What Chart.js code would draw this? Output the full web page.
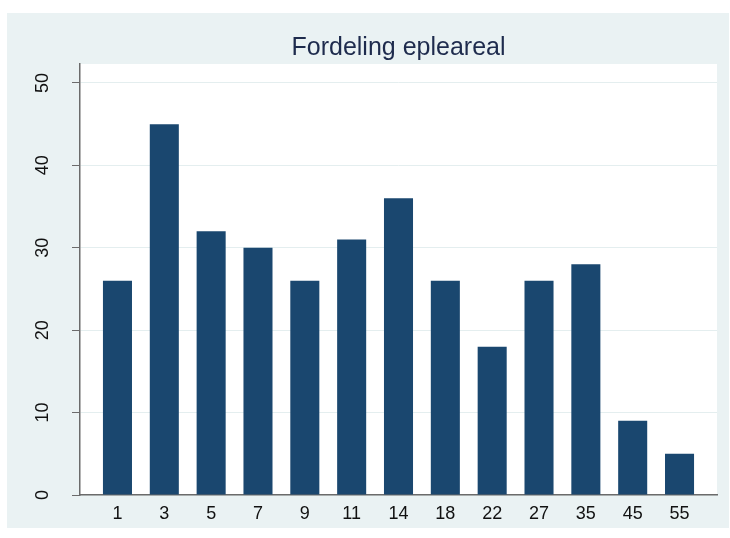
<!DOCTYPE html>
<html>
<head>
<meta charset="utf-8">
<title>Fordeling epleareal</title>
<script src="https://cdn.jsdelivr.net/npm/chart.js@4.4.1/dist/chart.umd.min.js"></script>
<style>
  html, body { margin: 0; padding: 0; background: #fff; }
  .wrap {
    position: absolute;
    left: 7px; top: 13px;
    width: 722px; height: 515px;
    background: #eaf2f3;
  }
</style>
</head>
<body>
<div class="wrap"><canvas id="chart"></canvas></div>
<script>
// areal categories and counts
const categories = ['1', '3', '5', '7', '9', '11', '14', '18', '22', '27', '35', '45', '55'];
const counts = [26, 45, 32, 30, 26, 31, 36, 26, 18, 26, 28, 9, 5];
const yTicks = [0, 10, 20, 30, 40, 50];

const FONT = "'Liberation Sans', Arial, sans-serif";
const AXIS = '#6b6b6b';

// white plot region like Stata's plotregion
const plotBg = {
  id: 'plotBg',
  beforeDraw(chart) {
    const { ctx, chartArea: a } = chart;
    ctx.save();
    ctx.fillStyle = '#ffffff';
    ctx.fillRect(a.left, a.top, a.right - a.left, a.bottom - a.top);
    ctx.restore();
  }
};

const ctx = document.getElementById('chart').getContext('2d');
new Chart(ctx, {
  type: 'bar',
  data: {
    datasets: [{
      data: counts.map((v, i) => ({ x: i, y: v })),
      backgroundColor: '#1a476f',
      borderColor: '#1a476f',
      borderWidth: 0,
      categoryPercentage: 1,
      barPercentage: 0.62,
    }],
  },
  options: {
    responsive: true,
    maintainAspectRatio: false,
    animation: false,
    layout: { padding: { left: 0, right: 12, top: 0, bottom: 0 } },
    plugins: {
      legend: { display: false },
      tooltip: { enabled: false },
      title: {
        display: true,
        text: 'Fordeling epleareal',
        fullSize: false,
        color: '#1e2b4d',
        font: { family: FONT, size: 25, weight: 'normal' },
        padding: { top: 20, bottom: 1 },
      },
    },
    scales: {
      x: {
        type: 'linear',
        min: -0.8,
        max: 12.8,
        offset: false,
        afterFit: (s) => { s.height = 33; },
        grid: { display: false, drawTicks: false },
        border: { display: true, color: AXIS, width: 1.5 },
        ticks: {
          stepSize: 1,
          includeBounds: false,
          autoSkip: false,
          maxRotation: 0,
          padding: 8,
          color: '#111',
          font: { family: FONT, size: 18 },
          callback: (v) => (Number.isInteger(v) && categories[v] !== undefined ? categories[v] : ''),
        },
      },
      y: {
        min: 0,
        max: 52.3,
        afterFit: (s) => { s.width = 73; },
        afterBuildTicks: (s) => { s.ticks = yTicks.map((v) => ({ value: v })); },
        grid: {
          color: '#e4eeef',
          lineWidth: 1,
          drawTicks: true,
          tickLength: 8,
          tickColor: AXIS,
        },
        border: { display: true, color: AXIS, width: 1.5 },
        ticks: {
          minRotation: 90,
          maxRotation: 90,
          crossAlign: 'center',
          padding: 19,
          color: '#111',
          font: { family: FONT, size: 18 },
        },
      },
    },
  },
  plugins: [plotBg],
});
</script>
</body>
</html>
